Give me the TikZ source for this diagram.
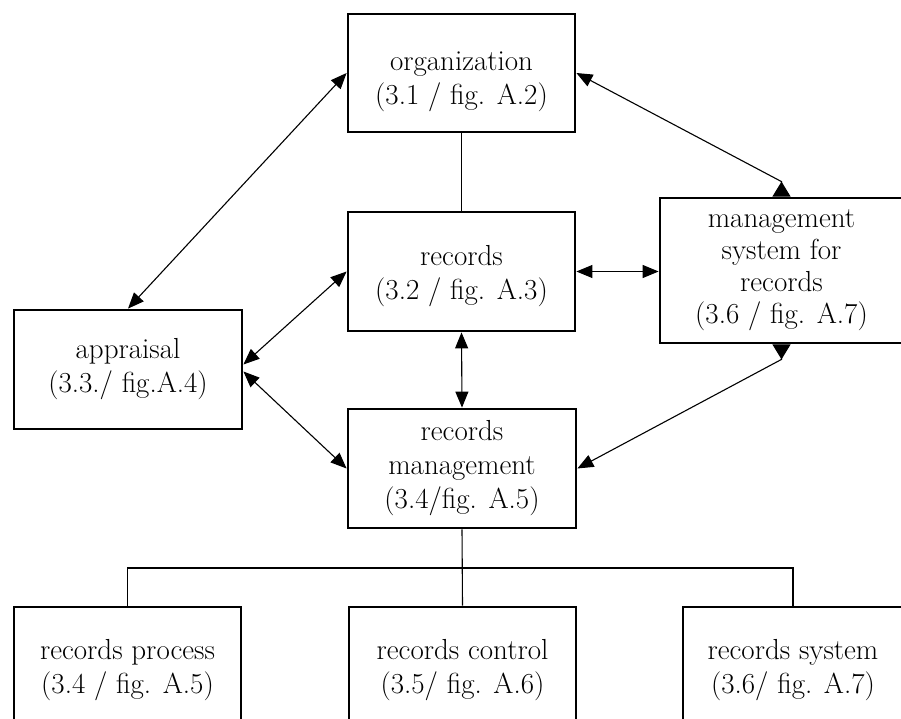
\documentclass[tikz,border=0pt]{standalone}
\usepackage{fontspec}
\usepackage{tikz}
\usetikzlibrary{arrows.meta}
\usetikzlibrary{positioning, calc}

\begin{document}
\begin{tikzpicture}[x=1pt, y=-1pt,
    boite/.style={draw, line width=2.8pt, align=center, inner sep=2pt,
        minimum width=227pt, minimum height=119pt,
        font=\fontsize{29}{34}\selectfont},
    lien/.style={line width=1.1pt},
    fleche/.style={lien, {Triangle[length=16pt,width=13pt]}-{Triangle[length=16pt,width=13pt]}},
    fleche inv/.style={lien, {Triangle[length=16pt,width=13pt]}-{Triangle[length=15pt,width=18pt,reversed]}}]
    \useasboundingbox (0,0) rectangle (901,719);

    % Boites du haut
    \node[boite, minimum height=118pt] (org) at (461.5,73) {\rule{0pt}{36pt}organization\\(3.1 / fig. A.2)};
    \node[boite] (rec) at (461.5,271.5) {\rule{0pt}{30pt}records\\(3.2 / fig. A.3)};
    \node[boite, minimum width=243pt, minimum height=145pt,
        font=\fontsize{29}{32}\selectfont] (mss) at (781.5,270.5)
        {management\\system for\\records\\(3.6 / fig. A.7)};
    \node[boite, minimum width=228pt] (appr) at (128,369.5) {appraisal\\(3.3./ fig.A.4)};
    \node[boite, minimum width=228pt] (rm) at (462,468.5) {records\\management\\(3.4/fig. A.5)};

    % Boites du bas
    \node[boite, minimum height=126pt] (proc) at (127.5,670) {records process\\(3.4 / fig. A.5)};
    \node[boite, minimum height=126pt] (ctrl) at (462.5,670) {records control\\(3.5/ fig. A.6)};
    \node[boite, minimum width=220pt, minimum height=126pt] (sys) at (793,670) {records system\\(3.6/ fig. A.7)};

    % Liens
    \draw[lien] (org.south) -- (rec.north);
    \draw[fleche] (org.west) -- (appr.north);
    \draw[fleche inv] (org.east) -- ([yshift=15pt]mss.north) -- (mss.north);
    \draw[fleche] (rec.east) -- (rec.east -| mss.west);
    \draw[fleche] (rec.west) -- ([yshift=5pt]appr.east);
    \draw[fleche] ([yshift=-2pt]appr.east) -- (rm.west);
    \draw[fleche] (rec.south) -- (rm.north);
    \draw[fleche inv] (rm.east) -- ([yshift=-15pt]mss.south) -- (mss.south);

    % Arborescence
    \coordinate (bus) at (462,568);
    \draw[lien] (rm.south) -- (ctrl.north);
    \draw[lien] (proc.north) -- (proc.north |- bus) -- (sys.north |- bus) -- (sys.north);
\end{tikzpicture}
\end{document}
